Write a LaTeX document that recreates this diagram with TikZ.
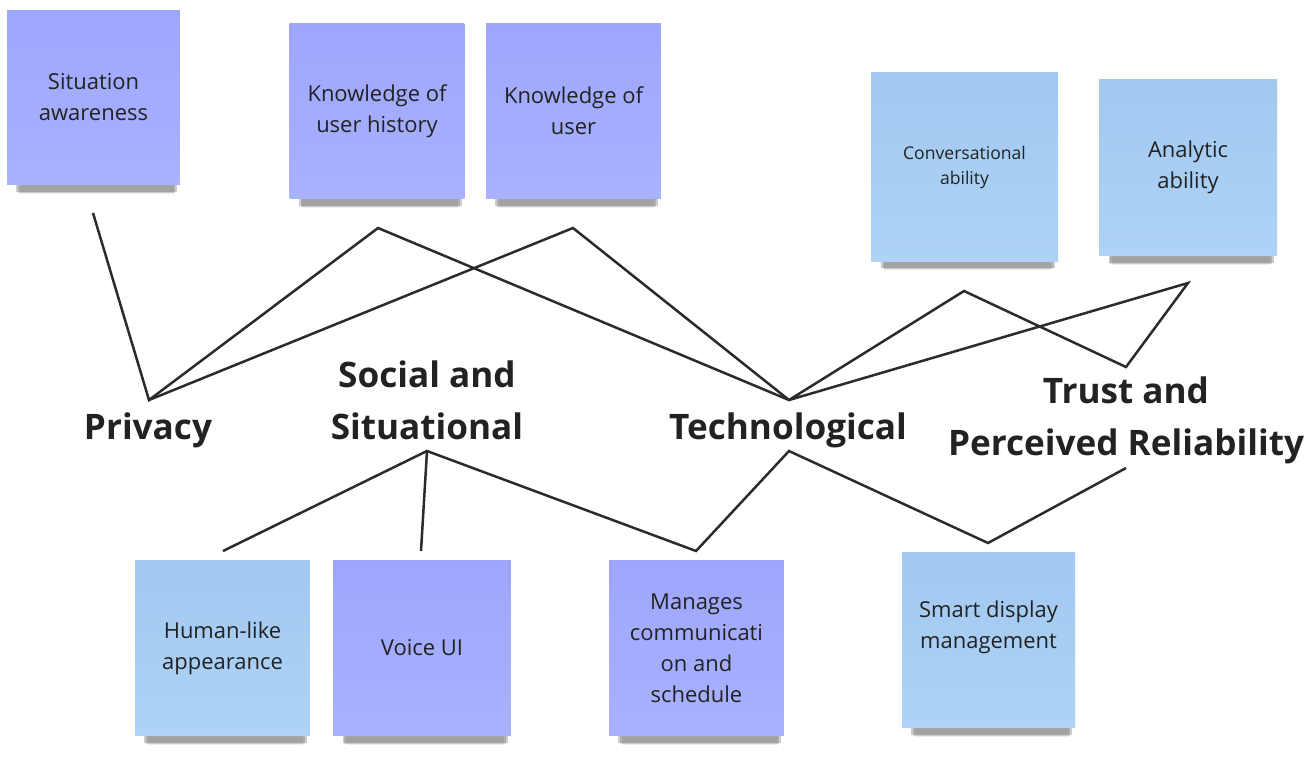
\documentclass[tikz,border=0pt]{standalone}
\usepackage{fontspec}
\setmainfont{Open Sans}
\usetikzlibrary{shadows}
\definecolor{violettop}{HTML}{9DA6FB}
\definecolor{violetbot}{HTML}{A9B2FF}
\definecolor{bluetop}{HTML}{A2C8F0}
\definecolor{bluebot}{HTML}{AED3F7}
\definecolor{notetext}{HTML}{222222}
\definecolor{linkcol}{HTML}{2B2B2B}
\begin{document}
\begin{tikzpicture}[x=0.02cm,y=-0.02cm,font=\fontsize{12.5}{17.6}\selectfont,
  note/.style={minimum width=3.5cm,minimum height=3.52cm,align=center,inner sep=2pt,text=notetext,
    general shadow={shadow xshift=2pt,shadow yshift=-8pt,shadow scale=0.93,fill=black,opacity=0.2,rounded corners=3pt},
    general shadow={shadow xshift=2pt,shadow yshift=-10pt,shadow scale=0.91,fill=black,opacity=0.14,rounded corners=4pt},
    general shadow={shadow xshift=2pt,shadow yshift=-12pt,shadow scale=0.89,fill=black,opacity=0.07,rounded corners=5pt}},
  violet note/.style={note,top color=violettop,bottom color=violetbot},
  blue note/.style={note,top color=bluetop,bottom color=bluebot},
  heading/.style={font=\fontsize{20}{29.5}\selectfont\bfseries,text=notetext,align=center,inner sep=0pt,anchor=base},
  link/.style={line width=1.42pt,draw=linkcol}]

\useasboundingbox (0,0) rectangle (1307,764);

\begin{scope}
% sticky notes
\node[violet note,minimum width=3.46cm,minimum height=3.5cm] (sit) at (93.5,97.5) {Situation\\awareness};
\node[violet note] (kuh) at (377,111) {Knowledge of\\user history};
\node[violet note] (ku) at (573.5,111) {Knowledge of\\user};
\node[blue note,minimum width=3.74cm,minimum height=3.8cm,font=\fontsize{10}{14.2}\selectfont] (conv) at (964.5,167) {Conversational\\ability};
\node[blue note,minimum width=3.56cm,minimum height=3.54cm] (ana) at (1188,167.5) {Analytic\\ability};
\node[blue note] (hum) at (222.5,648) {Human-like\\appearance};
\node[violet note,minimum width=3.56cm] (voice) at (422,648) {Voice UI};
\node[violet note] (man) at (696.5,648) {Manages\\communicati\\on and\\schedule};
\node[blue note,minimum width=3.46cm] (smart) at (988.5,640) {Smart display\\management\\~};

% headings
\node[heading] (priv) at (148,439) {Privacy};
\node[heading] (soc) at (427,439) {Social and\\Situational};
\node[heading] (tech) at (788,439) {Technological};
\node[heading] (trust) at (1126,455) {Trust and\\Perceived Reliability};

\coordinate (sit end) at (93,213);
\coordinate (priv top) at (149,400);
\coordinate (kuh tip) at (378,228);
\coordinate (ku tip) at (573,228);
\coordinate (tech top) at (789,400);
\coordinate (conv tip) at (964,291);
\coordinate (ana tip) at (1188,283);
\coordinate (trust top) at (1126,367);
\coordinate (soc bot) at (427,451);
\coordinate (hum tip) at (223,551);
\coordinate (voice tip) at (421,551);
\coordinate (man tip) at (696,551);
\coordinate (tech bot) at (789,451);
\coordinate (smart tip) at (988,543);
\coordinate (trust bot) at (1126,468);

\draw[link] (sit end) -- (priv top) -- (kuh tip) -- (tech top) -- (conv tip) -- (trust top) -- (ana tip) -- (tech top);
\draw[link] (priv top) -- (ku tip) -- (tech top);
\draw[link] (hum tip) -- (soc bot) -- (man tip) -- (tech bot) -- (smart tip) -- (trust bot);
\draw[link] (soc bot) -- (voice tip);
\end{scope}

\end{tikzpicture}
\end{document}
